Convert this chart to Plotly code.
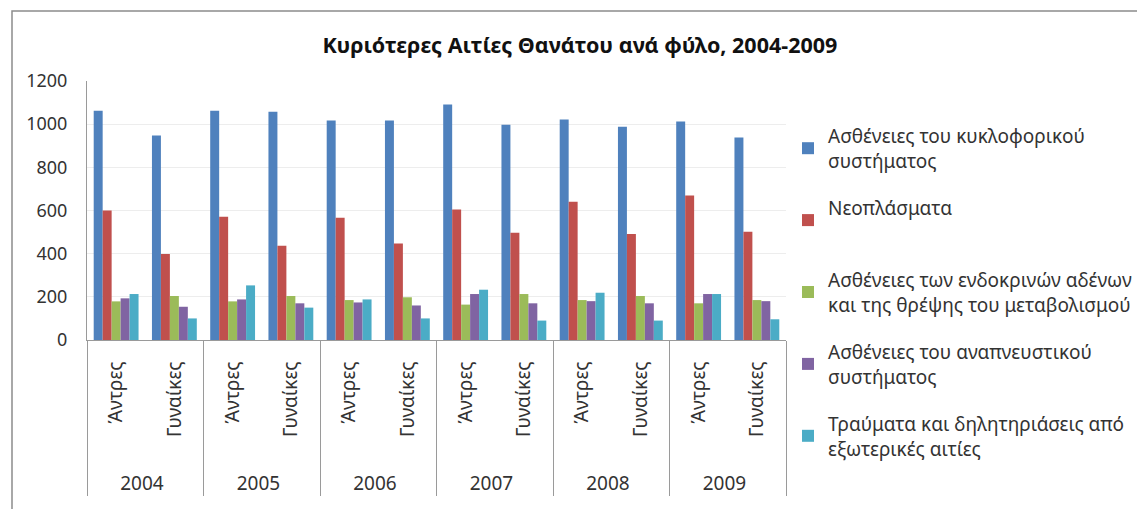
import plotly.graph_objects as go

years = ["2004", "2005", "2006", "2007", "2008", "2009"]
sexes = ["Άντρες", "Γυναίκες"]

series_names = [
    "Ασθένειες του κυκλοφορικού<br>συστήματος",
    "Νεοπλάσματα<br> ",
    "Ασθένειες των ενδοκρινών αδένων<br>και της θρέψης του μεταβολισμού",
    "Ασθένειες του αναπνευστικού<br>συστήματος",
    "Τραύματα και δηλητηριάσεις από<br>εξωτερικές αιτίες",
]

circulatory = [1062, 948, 1062, 1057, 1017, 1017, 1091, 997, 1022, 988, 1012, 938]
neoplasms = [600, 398, 571, 437, 566, 447, 605, 497, 640, 491, 670, 501]
endocrine = [179, 204, 179, 204, 185, 198, 164, 213, 185, 204, 170, 185]
respiratory = [193, 154, 188, 170, 174, 160, 213, 170, 180, 170, 213, 180]
injuries = [213, 100, 253, 150, 188, 100, 233, 90, 219, 90, 213, 96]

colors = ["#4F81BD", "#C0504D", "#9BBB59", "#8064A2", "#4BACC6"]

# leading non-breaking spaces only pad the rotated labels downward (layout spacing)
PAD = "\u00a0" * 6
x_years = [y for y in years for _ in sexes]
x_sexes = [PAD + s for _ in years for s in sexes]

FONT = "Noto Sans"

fig = go.Figure()
for name, vals, col in zip(series_names,
                           [circulatory, neoplasms, endocrine, respiratory, injuries],
                           colors):
    fig.add_trace(go.Bar(
        x=[x_years, x_sexes], y=vals, name=name, legendgroup=name,
        marker=dict(color=col, line=dict(width=0)),
    ))

fig.update_layout(
    width=1137, height=509,
    paper_bgcolor="white", plot_bgcolor="white",
    margin=dict(l=87, r=351, t=81, b=169, autoexpand=False),
    barmode="group", bargap=0.23, bargroupgap=0,
    font=dict(family=FONT, color="#222222"),
    title=dict(text="<b>Κυριότερες Αιτίες Θανάτου ανά φύλο, 2004-2009</b>",
               x=0.51, xref="container", xanchor="center",
               y=1 - 45 / 509, yref="container", yanchor="middle",
               font=dict(family=FONT, size=21.5, color="#111111")),
    legend=dict(x=(788 - 87) / 699, xanchor="left", y=(340 - 117) / 259, yanchor="top",
                font=dict(family=FONT, size=19, color="#333333"),
                traceorder="grouped", tracegroupgap=19.5, itemwidth=30,
                bgcolor="rgba(0,0,0,0)", maxheight=420),
    showlegend=True,
)

fig.update_yaxes(
    range=[0, 1200], dtick=200, showgrid=True, gridcolor="#EDEDED", gridwidth=1,
    showline=True, linecolor="#9A9A9A", linewidth=1, ticks="",
    tickfont=dict(family=FONT, size=18, color="#333333"),
    ticklabelstandoff=15, zeroline=False,
)
fig.update_xaxes(
    type="multicategory", showline=True, linecolor="#9A9A9A", linewidth=1,
    tickangle=-90, tickfont=dict(family=FONT, size=19, color="#333333"),
    showdividers=True, dividercolor="#9A9A9A", dividerwidth=1, ticks="",
    ticklabelstandoff=13,
)

# outer chart border
fig.add_shape(type="rect", xref="paper", yref="paper",
              x0=(12 - 87) / 699, x1=(1145 - 87) / 699,
              y0=(340 - 520) / 259, y1=(340 - 11) / 259,
              line=dict(color="#8C8C8C", width=1.5), layer="below")

fig.write_html("out.html", config={"displayModeBar": False},
               post_script="document.body.style.margin='0';document.body.style.overflow='hidden';")
